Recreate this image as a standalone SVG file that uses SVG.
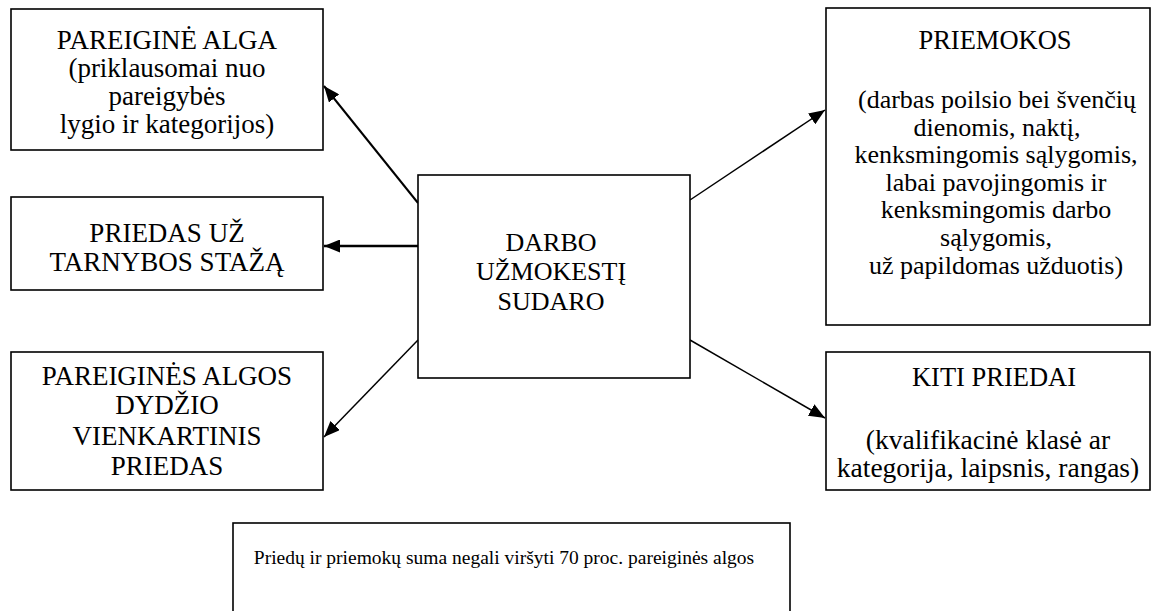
<svg xmlns="http://www.w3.org/2000/svg" width="1152" height="611" viewBox="0 0 1152 611">
<style>
.box{fill:#fff;stroke:#000;stroke-width:1.6}
.t{font-family:"Liberation Serif","Times New Roman",serif;font-size:26.5px;fill:#000;text-anchor:middle}
.l{font-size:27px}
.m{font-size:26px}
.k{font-size:27.5px}
.s{font-family:"Liberation Serif","Times New Roman",serif;font-size:19.5px;fill:#000;text-anchor:middle}
.c{stroke:#000;fill:none}
</style>
<defs>
<marker id="ah" markerUnits="userSpaceOnUse" markerWidth="17" markerHeight="13" refX="16" refY="6.5" orient="auto">
<path d="M0,0 L16,6.5 L0,13 z" fill="#000"/>
</marker>
</defs>
<rect width="1152" height="611" fill="#fff"/>
<g id="connectors">
<line class="c" x1="418" y1="203" x2="324" y2="86" stroke-width="2" marker-end="url(#ah)"/>
<line class="c" x1="418" y1="246" x2="324" y2="246" stroke-width="2.4" marker-end="url(#ah)"/>
<line class="c" x1="418" y1="340" x2="324" y2="437" stroke-width="1.5" marker-end="url(#ah)"/>
<line class="c" x1="690" y1="200" x2="825" y2="110" stroke-width="1.5" marker-end="url(#ah)"/>
<line class="c" x1="690" y1="340" x2="825" y2="418" stroke-width="1.5" marker-end="url(#ah)"/>
</g>
<g id="pareigine-alga">
<rect class="box" x="11" y="9" width="312" height="141"/>
<text class="t l" x="167" y="49">PAREIGINĖ ALGA</text>
<text class="t l" x="167" y="77">(priklausomai nuo</text>
<text class="t l" x="167" y="105">pareigybės</text>
<text class="t l" x="167" y="133">lygio ir kategorijos)</text>
</g>
<g id="priedas-staz">
<rect class="box" x="11" y="197" width="312" height="93"/>
<text class="t l" x="167" y="242">PRIEDAS UŽ</text>
<text class="t l" x="167" y="271">TARNYBOS STAŽĄ</text>
</g>
<g id="vienkartinis">
<rect class="box" x="11" y="352" width="312" height="138"/>
<text class="t l" x="167" y="385">PAREIGINĖS ALGOS</text>
<text class="t l" x="167" y="414">DYDŽIO</text>
<text class="t l" x="167" y="445">VIENKARTINIS</text>
<text class="t l" x="167" y="475">PRIEDAS</text>
</g>
<g id="darbo-uzmokestis">
<rect class="box" x="418" y="175" width="272" height="203"/>
<text class="t m" x="551" y="251">DARBO</text>
<text class="t m" x="551" y="280">UŽMOKESTĮ</text>
<text class="t m" x="551" y="310">SUDARO</text>
</g>
<g id="priemokos">
<rect class="box" x="826" y="8" width="324" height="317"/>
<text class="t" x="995" y="49">PRIEMOKOS</text>
<text class="t m" x="997" y="108">(darbas poilsio bei švenčių</text>
<text class="t m" x="997" y="135.6">dienomis, naktį,</text>
<text class="t m" x="996" y="163.2">kenksmingomis sąlygomis,</text>
<text class="t m" x="996" y="190.8">labai pavojingomis ir</text>
<text class="t m" x="996" y="218.4">kenksmingomis darbo</text>
<text class="t m" x="996" y="246">sąlygomis,</text>
<text class="t m" x="996" y="273.6">už papildomas užduotis)</text>
</g>
<g id="kiti-priedai">
<rect class="box" x="826" y="352" width="324" height="138"/>
<text class="t" x="994" y="386">KITI PRIEDAI</text>
<text class="t k" x="988" y="449">(kvalifikacinė klasė ar</text>
<text class="t k" x="988" y="477">kategorija, laipsnis, rangas)</text>
</g>
<g id="pastaba">
<rect class="box" x="233" y="523" width="557" height="100"/>
<text class="s" x="504" y="564">Priedų ir priemokų suma negali viršyti 70 proc. pareiginės algos</text>
</g>
</svg>
